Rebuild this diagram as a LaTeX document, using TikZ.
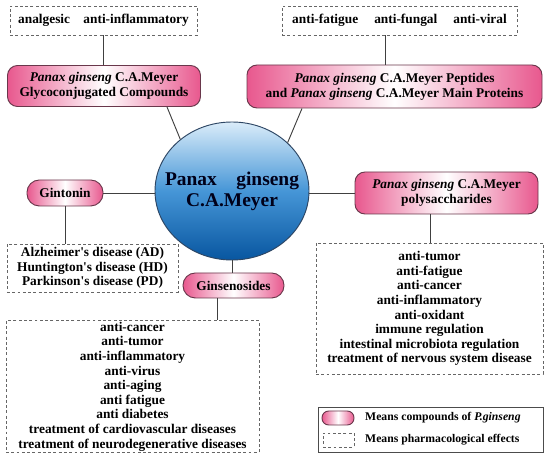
\documentclass[tikz,border=0pt]{standalone}
\usepackage{fontspec}
\setmainfont{Liberation Serif}
\usetikzlibrary{shapes.geometric}
\definecolor{pinkc}{RGB}{232,88,142}
\definecolor{pinkedge}{RGB}{105,55,75}
\definecolor{hubtop}{RGB}{218,236,249}
\definecolor{hubmid}{RGB}{70,150,215}
\definecolor{hubbot}{RGB}{8,86,160}
\definecolor{hubedge}{RGB}{45,70,100}
\tikzset{
  txt/.style={font=\bfseries\fontsize{11.4}{12.5}\selectfont, align=center},
  compound/.style={txt, draw=pinkedge, line width=0.8pt, left color=pinkc, right color=pinkc, middle color=white, rounded corners=0.3cm, inner sep=1pt},
  pill/.style={compound, rounded corners=0.37cm},
  effect/.style={txt, draw=black!60, line width=0.6pt, dash pattern=on 2.5pt off 2pt, inner sep=1pt},
  hub/.style={ellipse, draw=hubedge, line width=0.8pt, top color=hubtop, bottom color=hubbot, middle color=hubmid, minimum width=4.62cm, minimum height=4.14cm, inner sep=0pt},
  hubtxt/.style={align=center, font=\bfseries\fontsize{16.6}{18}\selectfont, text=black!90!blue},
  link/.style={draw=black!75, line width=0.8pt},
  legendtxt/.style={font=\bfseries\fontsize{10}{12}\selectfont, anchor=west, inner sep=0pt},
}
\begin{document}
\begin{tikzpicture}
\useasboundingbox (0,0) rectangle (16.5,13.77);
\node[hub] (c) at (6.96,8.04) {};
\node[hubtxt] (ct) at (c) {Panax\quad ginseng\\C.A.Meyer};
\node[compound, minimum width=5.79cm, minimum height=1.23cm] (p1) at (3.12,11.19) {\textit{Panax ginseng} C.A.Meyer\\Glycoconjugated Compounds};
\node[compound, minimum width=8.85cm, minimum height=1.29cm] (p2) at (11.835,11.175) {\textit{Panax ginseng} C.A.Meyer Peptides\\and \textit{Panax ginseng} C.A.Meyer Main Proteins};
\node[pill, minimum width=2.28cm, minimum height=0.78cm] (gin) at (1.95,7.98) {Gintonin};
\node[pill, minimum width=3.03cm, minimum height=0.75cm] (gins) at (7.005,5.205) {Ginsenosides};
\node[compound, minimum width=5.49cm, minimum height=1.26cm] (poly) at (13.395,7.98) {\textit{Panax ginseng} C.A.Meyer\\polysaccharides};
\node[effect, minimum width=5.61cm, minimum height=0.87cm] (d1) at (3.105,13.155) {analgesic\quad anti-inflammatory};
\node[effect, minimum width=7.05cm, minimum height=0.87cm] (d2) at (11.985,13.155) {anti-fatigue\hspace{1.2em}anti-fungal\hspace{1.2em}anti-viral};
\node[effect, minimum width=5.13cm, minimum height=1.44cm] (d3) at (2.775,5.73) {Alzheimer\textquotesingle s disease (AD)\\Huntington\textquotesingle s disease (HD)\\Parkinson\textquotesingle s disease (PD)};
\node[effect, minimum width=7.59cm, minimum height=3.93cm] (d4) at (3.975,2.175) {anti-cancer\\anti-tumor\\anti-inflammatory\\anti-virus\\anti-aging\\anti fatigue\\anti diabetes\\treatment of cardiovascular diseases\\treatment of neurodegenerative diseases};
\node[effect, minimum width=6.81cm, minimum height=3.93cm] (d5) at (12.885,4.515) {anti-tumor\\anti-fatigue\\anti-cancer\\anti-inflammatory\\anti-oxidant\\immune regulation\\intestinal microbiota regulation\\treatment of nervous system disease};
\draw[link] (d1.south) -- (d1.south |- p1.north);
\draw[link] ([xshift=-0.435cm]d2.south) -- ([xshift=-0.435cm]d2.south |- p2.north);
\draw[link] ([xshift=1.89cm]p1.south) -- (c.135);
\draw[link] ([xshift=-2.775cm]p2.south) -- (c.41);
\draw[link] (gin.east) -- (gin.east -| c.west);
\draw[link] (gin.south) -- (gin.south |- d3.north);
\draw[link] (c.south) -- (c.south |- gins.north);
\draw[link] ([xshift=-0.495cm]gins.south) -- ([xshift=-0.495cm]gins.south |- d4.north);
\draw[link] (poly.west -| c.east) -- (poly.west);
\draw[link] ([xshift=-0.495cm]poly.south) -- ([xshift=-0.495cm]poly.south |- d5.north);
\node[draw=black!70, line width=0.6pt, minimum width=6.75cm, minimum height=1.35cm, inner sep=0pt] (leg) at (12.915,0.885) {};
\node[pill, minimum width=0.96cm, minimum height=0.42cm, rounded corners=0.2cm, inner sep=0pt] (legp) at (10.14,1.23) {};
\node[effect, minimum width=0.93cm, minimum height=0.42cm, inner sep=0pt] (legd) at (10.155,0.57) {};
\node[legendtxt] (legpt) at (10.95,1.23) {Means compounds of \textit{P.ginseng}};
\node[legendtxt] (legdt) at (10.95,0.57) {Means pharmacological effects};
\end{tikzpicture}
\end{document}
